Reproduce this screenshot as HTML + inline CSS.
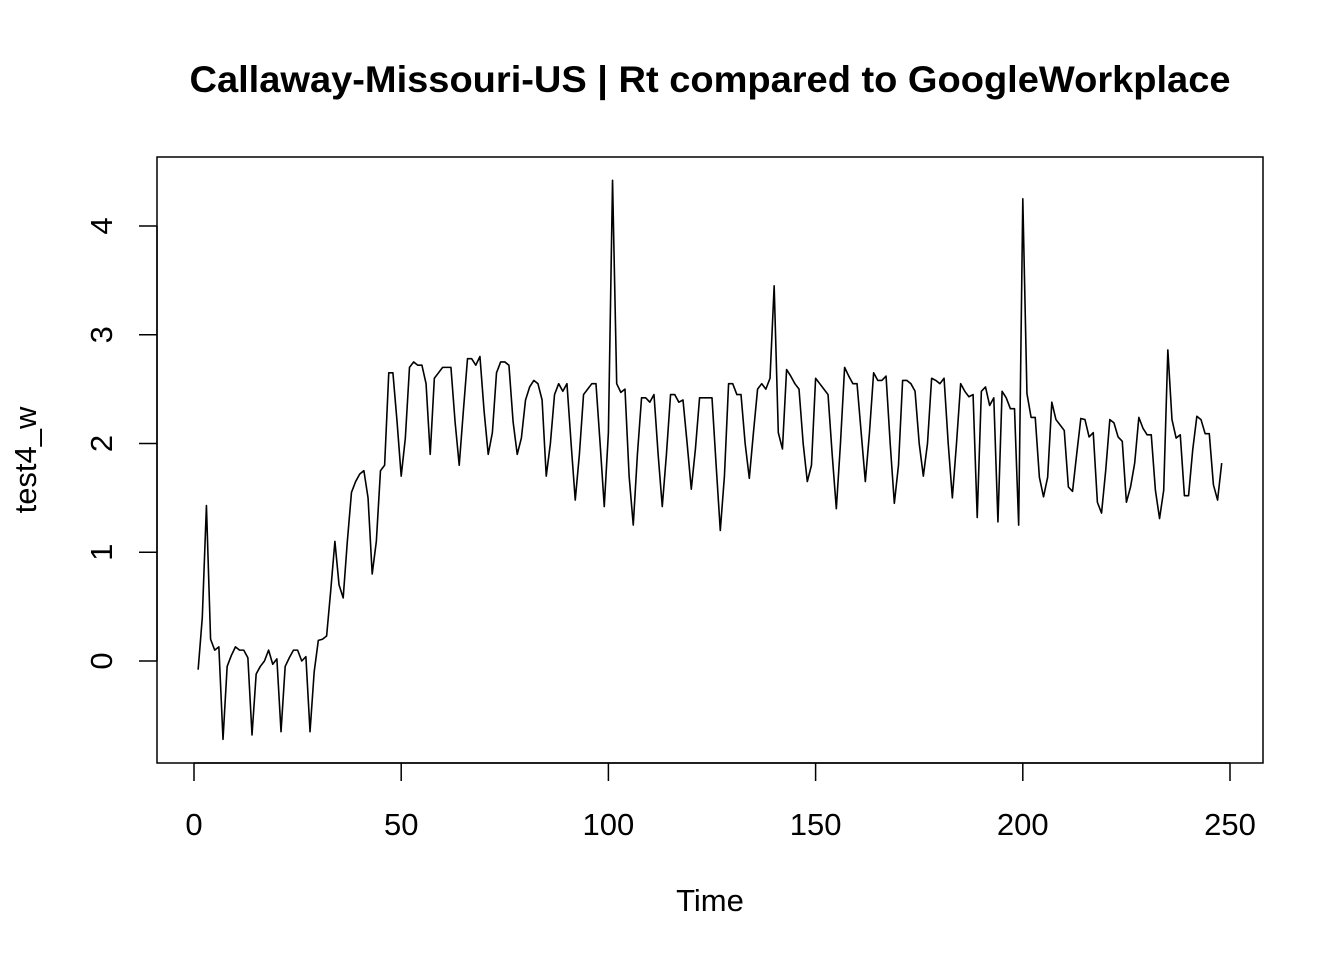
<!DOCTYPE html>
<html><head><meta charset="utf-8"><style>
html,body{margin:0;padding:0;background:#fff;}
svg{display:block;font-family:"Liberation Sans",Arial,sans-serif;}
</style></head><body>
<svg id="chart" width="1344" height="960">
<rect width="1344" height="960" fill="#fff"/>
<text x="710" y="92" text-anchor="middle" font-size="37" font-weight="bold" textLength="1041" lengthAdjust="spacingAndGlyphs">Callaway-Missouri-US | Rt compared to GoogleWorkplace</text>
<rect x="157" y="157" width="1106" height="606" fill="none" stroke="#000" stroke-width="1.5"/>
<g id="xaxis"></g>
<g id="yaxis"></g>
<text x="710" y="911" text-anchor="middle" font-size="31">Time</text>
<text transform="translate(36,460) rotate(-90)" text-anchor="middle" font-size="31">test4_w</text>
<path id="line" fill="none" stroke="#000" stroke-width="1.6" stroke-linejoin="round"/>
</svg>
<script>
const xTicks=[0,50,100,150,200,250];
const yTicks=[0,1,2,3,4];
const values=[
-0.08,0.4,1.43,0.2,0.1,0.13,-0.72,-0.05,0.05,0.13,
0.1,0.1,0.03,-0.68,-0.12,-0.05,0.0,0.1,-0.03,0.02,
-0.65,-0.05,0.03,0.1,0.1,0.0,0.04,-0.65,-0.1,0.19,
0.2,0.23,0.65,1.1,0.7,0.58,1.1,1.55,1.65,1.72,
1.75,1.5,0.8,1.1,1.75,1.8,2.65,2.65,2.2,1.7,
2.05,2.7,2.75,2.72,2.72,2.55,1.9,2.6,2.65,2.7,
2.7,2.7,2.2,1.8,2.3,2.78,2.78,2.72,2.8,2.3,
1.9,2.1,2.65,2.75,2.75,2.72,2.2,1.9,2.05,2.4,
2.52,2.58,2.55,2.4,1.7,2.0,2.45,2.55,2.48,2.55,
2.0,1.48,1.9,2.45,2.5,2.55,2.55,2.0,1.42,2.1,
4.42,2.55,2.47,2.5,1.7,1.25,1.9,2.42,2.42,2.38,
2.45,1.9,1.42,1.9,2.45,2.45,2.38,2.4,2.0,1.58,
1.95,2.42,2.42,2.42,2.42,1.8,1.2,1.7,2.55,2.55,
2.45,2.45,2.0,1.68,2.1,2.5,2.55,2.5,2.6,3.45,
2.1,1.95,2.68,2.62,2.55,2.5,2.0,1.65,1.8,2.6,
2.55,2.5,2.45,1.9,1.4,2.0,2.7,2.62,2.55,2.55,
2.1,1.65,2.1,2.65,2.58,2.58,2.62,2.0,1.45,1.8,
2.58,2.58,2.55,2.48,2.0,1.7,2.0,2.6,2.58,2.55,
2.6,2.0,1.5,2.0,2.55,2.48,2.43,2.45,1.32,2.48,
2.52,2.35,2.42,1.28,2.48,2.42,2.32,2.32,1.25,4.25,
2.46,2.24,2.24,1.69,1.51,1.69,2.38,2.22,2.17,2.12,
1.6,1.56,1.9,2.23,2.22,2.06,2.1,1.46,1.36,1.75,
2.22,2.19,2.06,2.02,1.46,1.6,1.82,2.24,2.14,2.08,
2.08,1.57,1.31,1.57,2.86,2.22,2.05,2.08,1.52,1.52,
1.94,2.25,2.22,2.09,2.09,1.62,1.48,1.82
];
const NS="http://www.w3.org/2000/svg";
function xs(t){return 194+(t-0)*(1230-194)/250;}
function ys(v){return 661-v*(661-226)/4;}
const xa=document.getElementById('xaxis'),ya=document.getElementById('yaxis');
function mk(tag,attrs,parent){const e=document.createElementNS(NS,tag);for(const k in attrs)e.setAttribute(k,attrs[k]);parent.appendChild(e);return e;}
const xl=mk('line',{x1:xs(xTicks[0]),x2:xs(xTicks[xTicks.length-1]),y1:763,y2:763,stroke:'#000','stroke-width':1.5},xa);


xTicks.forEach(t=>{
  const tk=mk('line',{x1:xs(t),x2:xs(t),y1:763,y2:781,stroke:'#000','stroke-width':1.5},xa);
  
  
  const tx=mk('text',{x:xs(t),y:835,'text-anchor':'middle','font-size':31},xa);
  tx.textContent=t;
  
  
});
const yl=mk('line',{x1:157,x2:157,y1:ys(yTicks[0]),y2:ys(yTicks[yTicks.length-1]),stroke:'#000','stroke-width':1.5},ya);


yTicks.forEach(v=>{
  const tk=mk('line',{x1:139,x2:157,y1:ys(v),y2:ys(v),stroke:'#000','stroke-width':1.5},ya);
  
  
  const tx=mk('text',{transform:`translate(112,${ys(v)}) rotate(-90)`,'text-anchor':'middle','font-size':31},ya);
  tx.textContent=v;
  
  
});
document.getElementById('line').setAttribute('d',values.map((v,i)=>(i?'L':'M')+xs(i+1).toFixed(2)+','+ys(v).toFixed(2)).join(''));
</script>
</body></html>
